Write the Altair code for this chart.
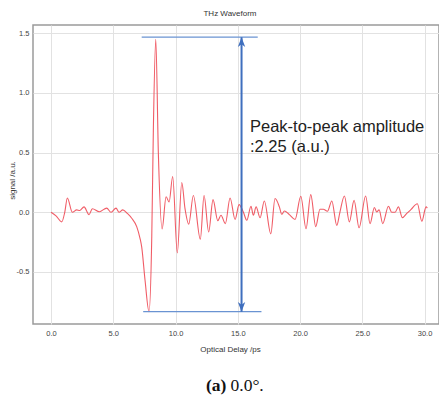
import altair as alt
import pandas as pd

# Waveform (optical delay in ps, signal in a.u.)
delay = [0.0, 0.4, 0.86, 1.1, 1.31, 1.71, 2.06, 2.3, 2.65, 3.05, 3.32, 3.88, 4.47, 4.82,
         5.22, 5.46, 5.76, 6.13, 6.48, 6.88, 7.15, 7.28, 7.55, 7.87, 8.09, 8.22, 8.41,
         8.62, 8.92, 9.24, 9.48, 9.77, 10.14, 10.5, 10.76, 11.06, 11.43, 11.99, 12.29,
         12.66, 13.01, 13.39, 13.65, 14.0, 14.38, 14.78, 15.1, 15.45, 15.72, 16.06,
         16.25, 16.47, 16.79, 17.13, 17.65, 17.99, 18.34, 18.53, 18.74, 19.14, 19.6,
         20.06, 20.48, 20.86, 21.26, 21.6, 21.87, 22.2, 22.55, 22.95, 23.2, 23.56,
         23.96, 24.34, 24.74, 25.27, 25.62, 25.97, 26.16, 26.35, 26.64, 27.1, 27.36,
         27.63, 27.9, 28.22, 28.57, 28.92, 29.42, 29.78, 30.12, 30.22]
signal = [0.0, -0.03, -0.08, 0.0, 0.12, 0.0, 0.02, 0.015, 0.045, -0.02, 0.03, 0.005, 0.035,
          0.0, 0.035, 0.0, 0.02, -0.01, -0.05, -0.12, -0.22, -0.29, -0.57, -0.833, -0.2,
          0.71, 1.45, 0.49, -0.14, 0.13, 0.086, 0.30, -0.34, 0.25, 0.03, -0.10, 0.14,
          -0.225, 0.14, -0.165, 0.106, -0.07, -0.025, -0.095, 0.12, -0.06, 0.064, 0.0,
          -0.067, 0.05, -0.025, 0.045, -0.045, 0.095, -0.18, 0.115, 0.045, -0.017, 0.011,
          -0.02, -0.06, 0.134, -0.137, 0.148, -0.12, 0.025, 0.025, 0.008, 0.095, -0.11,
          0.0, 0.136, -0.08, 0.10, -0.13, 0.136, -0.095, 0.04, 0.003, 0.02, -0.095, 0.05,
          0.0, 0.0, 0.045, -0.045, -0.01, 0.025, 0.072, -0.075, 0.045, 0.035]

# Peak-to-peak annotation
level_y = [1.467, -0.833]
level_x_start = [7.28, 7.4]
level_x_end = [16.6, 16.9]
arrow_x = 15.3
annotation_lines = ["Peak-to-peak amplitude", ":2.25 (a.u.)"]
annotation_x = [15.98, 15.98]
annotation_y = [0.67, 0.504]

x_ticks = [0, 5, 10, 15, 20, 25, 30]
y_ticks = [-0.5, 0, 0.5, 1.0, 1.5]
x_domain = [-1.45, 31.16]
y_domain = [-0.936, 1.569]

wave = pd.DataFrame({"delay": delay, "signal": signal})
levels = pd.DataFrame({"y": level_y, "x1": level_x_start, "x2": level_x_end})
arrow = pd.DataFrame({"x": [arrow_x], "y1": [level_y[1]], "y2": [level_y[0]]})
heads = pd.DataFrame({"x": [arrow_x, arrow_x], "y": level_y,
                      "dir": ["up", "down"]})
notes = pd.DataFrame({"x": annotation_x, "y": annotation_y, "t": annotation_lines})

LAB_FONT = "Liberation Sans Narrow, Liberation Sans, Arial, sans-serif"

xs = alt.Scale(domain=x_domain, nice=False, zero=False)
ys = alt.Scale(domain=y_domain, nice=False, zero=False)

line = alt.Chart(wave).mark_line(
    color="#ee4a55", strokeWidth=1.1, interpolate="monotone", opacity=0.9
).encode(
    x=alt.X("delay:Q", scale=xs,
            axis=alt.Axis(values=x_ticks, format=".1f", title="Optical Delay /ps",
                          titleX=197, titleY=25, titleBaseline="middle")),
    y=alt.Y("signal:Q", scale=ys,
            axis=alt.Axis(values=y_ticks, title="signal /a.u.",
                          labelExpr="replace(format(datum.value, '.1f'), '\u2212', '-')",
                          titleX=-21, titleY=155, titleBaseline="middle")),
)

hlines = alt.Chart(levels).mark_rule(color="#6a93d2", strokeWidth=1.3).encode(
    x="x1:Q", x2="x2:Q", y="y:Q"
)

vline = alt.Chart(arrow).mark_rule(color="#3f6fbe", strokeWidth=2).encode(
    x="x:Q", y="y1:Q", y2="y2:Q"
)

up_head = alt.Chart(heads).transform_filter(alt.datum.dir == "up").mark_point(
    shape="M0,0L-0.6,1.6L0,1.15L0.6,1.6Z", filled=True, color="#3f6fbe",
    size=150, opacity=1
).encode(x="x:Q", y="y:Q")

down_head = alt.Chart(heads).transform_filter(alt.datum.dir == "down").mark_point(
    shape="M0,0L-0.6,-1.6L0,-1.15L0.6,-1.6Z", filled=True, color="#3f6fbe",
    size=150, opacity=1
).encode(x="x:Q", y="y:Q")

note = alt.Chart(notes).mark_text(
    align="left", baseline="alphabetic", fontSize=16.5, color="#222222",
    font="Liberation Sans, Arial, sans-serif"
).encode(x="x:Q", y="y:Q", text="t:N")

cap_a = alt.Chart(pd.DataFrame({"t": ["(a)"]})).mark_text(
    align="left", baseline="alphabetic", fontSize=17.5, fontWeight="bold",
    font="Liberation Serif, serif", color="#111111"
).encode(x=alt.value(173), y=alt.value(366), text="t:N")

cap_b = alt.Chart(pd.DataFrame({"t": ["0.0\u00b0."]})).mark_text(
    align="left", baseline="alphabetic", fontSize=17.5,
    font="Liberation Serif, serif", color="#111111"
).encode(x=alt.value(197.5), y=alt.value(366), text="t:N")

chart = alt.layer(line, hlines, vline, up_head, down_head, note, cap_a, cap_b).properties(
    width=406, height=299,
    autosize=alt.AutoSizeParams(type="none"),
    padding={"left": 33, "top": 25, "right": 0, "bottom": 71},
    title=alt.TitleParams("THz Waveform", fontSize=8, fontWeight="normal",
                          font=LAB_FONT, color="#333333", anchor="middle",
                          dx=-6, offset=7),
).configure_view(
    stroke="#9a9a9a", strokeWidth=1.5
).configure_axis(
    domain=False, ticks=False, grid=True, gridColor="#e2e2e2", gridWidth=1,
    labelFont=LAB_FONT, labelFontSize=7.5, labelColor="#444444",
    titleFont=LAB_FONT, titleFontSize=8, titleFontWeight="normal", titleColor="#333333",
).configure_axisX(labelPadding=5).configure_axisY(labelPadding=4)

chart.save("out.html", embed_options={"renderer": "svg", "actions": False})
